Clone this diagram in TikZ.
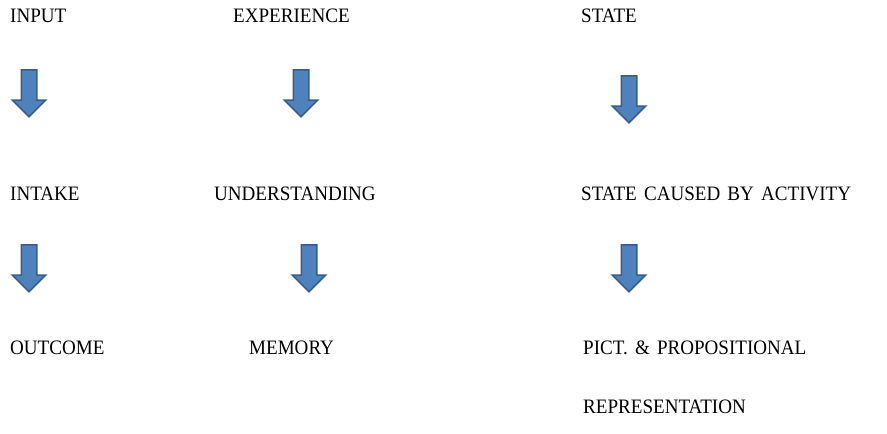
\documentclass[tikz,border=0pt]{standalone}
\usepackage{fontspec}
\setmainfont{Liberation Serif}[FakeStretch=0.93]
\usetikzlibrary{shapes.arrows}
\definecolor{arrowfill}{HTML}{4F81BD}
\definecolor{arrowline}{HTML}{385D8A}
\newcommand\termfont{\fontsize{20.5}{24}\selectfont\spaceskip 0.35em\relax}

\begin{document}
\begin{tikzpicture}[x=1pt,y=-1pt,
  term/.style={anchor=base west,inner sep=0pt,font=\termfont},
  downarrow/.style={single arrow,shape border rotate=270,anchor=tail,
    draw=arrowline,fill=arrowfill,line width=1.5pt,inner sep=7pt,
    minimum height=47pt,single arrow head extend=9pt,single arrow tip angle=90}]
  \useasboundingbox (0,0) rectangle (887,434);
  % top row
  \node[term] (input) at (10,22) {INPUT};
  \node[term] (exper) at (233,22) {EXPERIENCE};
  \node[term] (state) at (581,22) {STATE};
  % first arrows
  \node[downarrow] (a1) at (29,69) {};
  \node[downarrow] (a2) at (301,69) {};
  \node[downarrow] (a3) at (629,75) {};
  % middle row
  \node[term] (intake) at (10,200) {INTAKE};
  \node[term] (underst) at (214,200) {UNDERSTANDING};
  \node[term] (caused) at (581,200) {STATE CAUSED BY ACTIVITY};
  % second arrows
  \node[downarrow] (b1) at (29,244) {};
  \node[downarrow] (b2) at (309,244) {};
  \node[downarrow] (b3) at (629,244) {};
  % bottom row
  \node[term] (outcome) at (10,354) {OUTCOME};
  \node[term] (memory) at (249,354) {MEMORY};
  \node[term] (pict) at (583,354) {PICT. \& PROPOSITIONAL};
  \node[term] (repr) at (583,413) {REPRESENTATION};
\end{tikzpicture}
\end{document}
